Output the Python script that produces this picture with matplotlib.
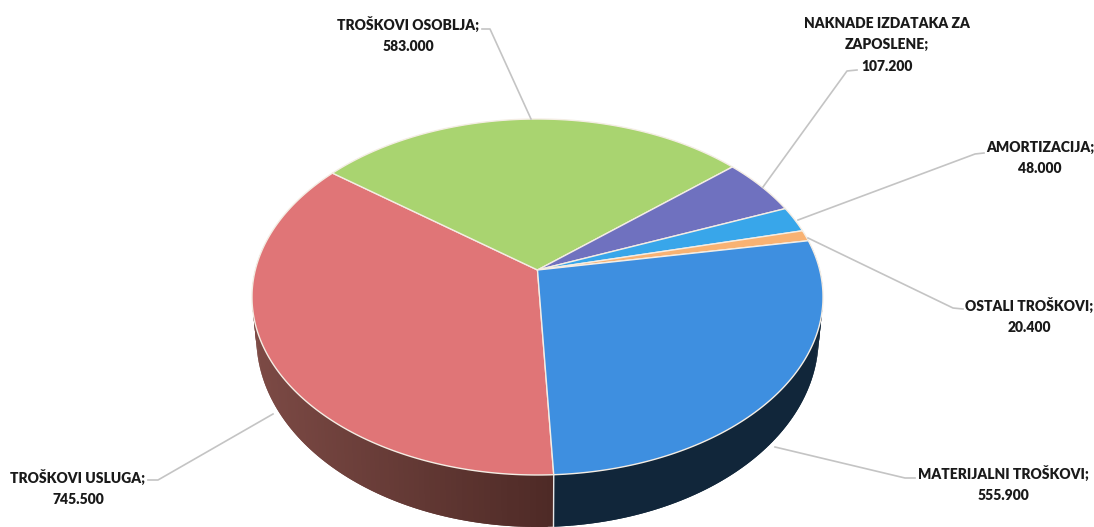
import numpy as np
import matplotlib
matplotlib.use("Agg")
import matplotlib.pyplot as plt
from matplotlib.colors import to_rgb

# values from the chart, clockwise from the front seam
names = ["TROŠKOVI USLUGA", "TROŠKOVI OSOBLJA", "NAKNADE IZDATAKA ZA\nZAPOSLENE", "AMORTIZACIJA", "OSTALI TROŠKOVI", "MATERIJALNI TROŠKOVI"]
values = [745500, 583000, 107200, 48000, 20400, 555900]
top_colors = ["#e07577", "#a9d470", "#6f71bf", "#38a6ea", "#f8b273", "#3e8fe0"]
wall_left = ["#7c4a45", "#5f7a40", "#3f3f70", "#1c5a80", "#8a6238", "#14293b"]
wall_right = ["#4e2a26", "#5f7a40", "#3f3f70", "#1c5a80", "#8a6238", "#11263a"]

# label centre, first line y
label_pos = [(78, 477), (408, 24), (887, 25), (1040, 149), (1029, 305), (1003, 473)]
leaders = [
    [(148, 480), (158, 480), (273, 414)],
    [(482, 29), (490, 29), (531, 119)],
    [(857, 70), (847, 71), (763, 187)],
    [(984, 153), (975, 154), (798, 220)],
    [(963, 309), (953, 308), (808, 238)],
    [(915, 478), (905, 478), (775, 447)],
]

# projection of the tilted disc, keeps the apex above the ellipse centre
cx, cy = 537.5, 270
rx, ry = 282.2, 173.9
k = 0.1517
start = 177.2  # degrees clockwise from the back of the pie


def rim(clock_deg):
    t = np.radians(90 - clock_deg)
    w = 1 + k * np.sin(t)
    return cx + rx * np.cos(t) / w, cy - ry * np.sin(t) / w


def rim_low(clock_deg):
    t = np.radians(90 - clock_deg)
    x, y = rim(clock_deg)
    return cx + (x - cx) * 0.985, y + 38 - 14 * np.sin(t)


fig = plt.figure(figsize=(10.94, 5.27), dpi=100)
ax = fig.add_axes([0, 0, 1, 1])
ax.set_xlim(0, 1094)
ax.set_ylim(527, 0)
ax.axis("off")

shares = np.array(values) / sum(values) * 360
edges = start + np.concatenate([[0], np.cumsum(shares)])

# side walls first, quads overlap so no stripes show between them
for i in range(len(values)):
    angs = np.arange(edges[i], edges[i + 1], 1.0)
    c0, c1 = np.array(to_rgb(wall_left[i])), np.array(to_rgb(wall_right[i]))
    for a in angs:
        a2 = min(a + 2.0, edges[i + 1])
        # only the front half of the wall can be seen
        if np.sin(np.radians(90 - a)) > 0.15:
            continue
        x1, y1 = rim(a)
        x2, y2 = rim(a2)
        x3, y3 = rim_low(a2)
        x4, y4 = rim_low(a)
        f = np.clip((x1 - 255) / 300, 0, 1)
        col = c0 + (c1 - c0) * f
        ax.fill([x1, x2, x3, x4], [y1, y2, y3, y4], color=col, lw=0, zorder=1)

# seam on the wall
sx, sy = rim(start)
lx, ly = rim_low(start)
ax.plot([sx, lx], [sy, ly], color="#e8e8e8", lw=1, zorder=2)

# top faces
for i in range(len(values)):
    angs = np.linspace(edges[i], edges[i + 1], 200)
    xs, ys = rim(angs)
    ax.fill(np.r_[cx, xs], np.r_[cy, ys], facecolor=top_colors[i], edgecolor="#f4ede4", lw=1.0, zorder=3, joinstyle="round")

for i in range(len(values)):
    pts = np.array(leaders[i])
    ax.plot(pts[:, 0], pts[:, 1], color="#c4c4c4", lw=1.2, zorder=4)
    label = "%s;\n%s" % (names[i], f"{values[i]:,}".replace(",", "."))
    ax.text(label_pos[i][0], label_pos[i][1] - 8, label, ha="center", va="top", ma="center",
            family="Lato", weight="heavy", fontsize=10, color="#1a1a1a", linespacing=1.75, zorder=5)

fig.savefig("out.png", dpi=100)
